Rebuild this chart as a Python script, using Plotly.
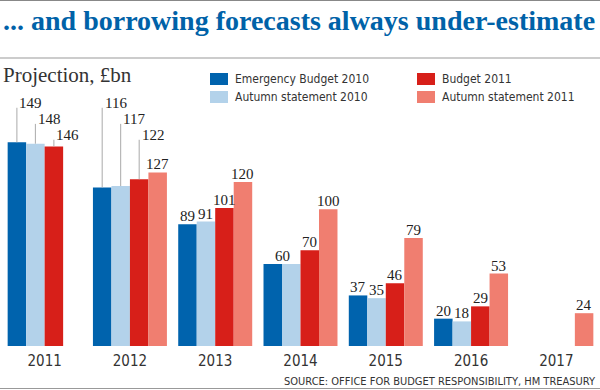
import plotly.graph_objects as go

# ---------------- data ----------------
years = ["2011", "2012", "2013", "2014", "2015", "2016", "2017"]
series_names = ["Emergency Budget 2010", "Autumn statement 2010",
                "Budget 2011", "Autumn statement 2011"]
emergency_budget_2010 = [149, 116, 89, 60, 37, 20, None]
autumn_statement_2010 = [148, 117, 91, 60, 35, 18, None]
budget_2011 = [146, 122, 101, 70, 46, 29, None]
autumn_statement_2011 = [None, 127, 120, 100, 79, 53, 24]
series_values = [emergency_budget_2010, autumn_statement_2010,
                 budget_2011, autumn_statement_2011]

# ---------------- style ----------------
colors = ["#0063ad", "#b3d2ea", "#d71f19", "#f07e70"]
TITLE = "... and borrowing forecasts always under-estimate"
SUBTITLE = "Projection, £bn"
SOURCE = "SOURCE: OFFICE FOR BUDGET RESPONSIBILITY, HM TREASURY"
SERIF = "Liberation Serif, DejaVu Serif, serif"
SANS = "DejaVu Sans Condensed, Liberation Sans, Arial, sans-serif"
TEXT = "#333333"

W, H = 600, 390
L, R, T, B = 2, 1, 90, 44
plot_w = W - L - R
plot_h = H - T - B


def px_x(px):
    return (px - L) / plot_w


def px_y(py):
    return (H - B - py) / plot_h


YMAX = 187.3
BARGAP = 0.1325
slot = (1 - BARGAP) / 4
STAGGERED = {0, 1}            # categories whose labels use leader lines
LEVELS = [177.8, 166.0, 154.4]  # label heights (data units) for leader labels

fig = go.Figure()
xs = list(range(len(years)))
for name, vals, c in zip(series_names, series_values, colors):
    fig.add_bar(x=xs, y=vals, name=name, marker=dict(color=c, line=dict(width=0)),
                showlegend=False)

annotations = []
shapes = []

# value labels
for ci in range(len(years)):
    for si, vals in enumerate(series_values):
        v = vals[ci]
        if v is None:
            continue
        xpos = ci + (si - 1.5) * slot
        if ci in STAGGERED and si < 3:
            lvl = LEVELS[si]
            shapes.append(dict(type="line", xref="x", yref="y", x0=xpos, x1=xpos,
                               y0=v, y1=lvl - 3.5, line=dict(color="#aaaaaa", width=1)))
            annotations.append(dict(x=xpos, y=lvl, xref="x", yref="y", text=str(v),
                                    showarrow=False, xanchor="left", yanchor="middle",
                                    xshift=0.5, font=dict(family=SERIF, size=15, color="#222222")))
            continue
        if si == 1 and series_values[0][ci] == v:
            continue
        if si == 0 and series_values[1][ci] == v:
            xpos = ci + (si - 1.0) * slot
        annotations.append(dict(x=xpos, y=v, xref="x", yref="y", text=str(v),
                                showarrow=False, xanchor="center", yanchor="bottom",
                                yshift=-2, font=dict(family=SERIF, size=15, color="#222222")))

# title / subtitle / source
annotations.append(dict(x=px_x(1), y=px_y(20), xref="paper", yref="paper", text=f"<b>{TITLE}</b>",
                        showarrow=False, xanchor="left", yanchor="middle",
                        font=dict(family=SERIF, size=28, color="#0062a8")))
annotations.append(dict(x=px_x(1), y=px_y(75), xref="paper", yref="paper", text=SUBTITLE,
                        showarrow=False, xanchor="left", yanchor="middle",
                        font=dict(family=SERIF, size=21, color=TEXT)))
annotations.append(dict(x=px_x(598), y=px_y(381), xref="paper", yref="paper", text=SOURCE,
                        showarrow=False, xanchor="right", yanchor="middle",
                        font=dict(family=SANS, size=11, color=TEXT)))

# legend (manual)
leg_pos = [(210, 79), (210, 97), (417, 79), (417, 97)]
for (lx, ly), name, c in zip(leg_pos, series_names, colors):
    shapes.append(dict(type="rect", xref="paper", yref="paper", x0=px_x(lx), x1=px_x(lx + 18),
                       y0=px_y(ly - 6), y1=px_y(ly + 6), fillcolor=c, line=dict(width=0)))
    annotations.append(dict(x=px_x(lx + 23), y=px_y(ly), xref="paper", yref="paper", text=name,
                            showarrow=False, xanchor="left", yanchor="middle",
                            font=dict(family=SANS, size=12, color=TEXT)))

# rules
for py, col in [(0.5, "#888888"), (58, "#999999"), (388.5, "#999999")]:
    shapes.append(dict(type="line", xref="paper", yref="paper", x0=px_x(-2), x1=px_x(602),
                       y0=px_y(py), y1=px_y(py), line=dict(color=col, width=1)))

fig.update_layout(
    width=W, height=H, margin=dict(l=L, r=R, t=T, b=B),
    paper_bgcolor="white", plot_bgcolor="white",
    barmode="group", bargap=BARGAP, bargroupgap=0,
    xaxis=dict(range=[-0.5, len(years) - 0.5], tickvals=xs, ticktext=years,
               showgrid=False, zeroline=False, showline=False, ticks="",
               ticklabelstandoff=4,
               tickfont=dict(family=SANS, size=15, color=TEXT)),
    yaxis=dict(range=[0, YMAX], visible=False, showgrid=False, zeroline=False),
    annotations=annotations, shapes=shapes, showlegend=False,
)

fig.write_html("out.html", config={"displayModeBar": False},
               post_script="document.body.style.margin='0';document.body.style.overflow='hidden';")
